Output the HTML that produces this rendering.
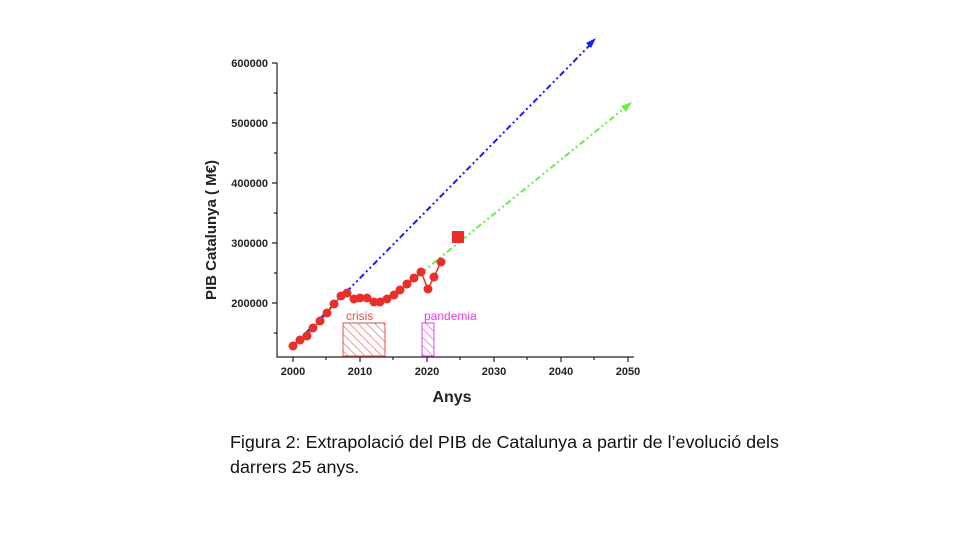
<!DOCTYPE html>
<html><head><meta charset="utf-8"><style>
body{margin:0;background:#fff;}
svg{display:block;font-family:"Liberation Sans",sans-serif;}
</style></head><body>
<svg width="960" height="540" viewBox="0 0 960 540">
<defs>
<pattern id="hr" width="6" height="6" patternUnits="userSpaceOnUse" patternTransform="rotate(-45)"><line x1="0" y1="0" x2="0" y2="6" stroke="#e8504a" stroke-width="1.2"/></pattern>
<pattern id="hm" width="6" height="6" patternUnits="userSpaceOnUse" patternTransform="rotate(-45)"><line x1="0" y1="0" x2="0" y2="6" stroke="#e040e8" stroke-width="1.2"/></pattern>
</defs>
<g stroke="#222" stroke-width="1.2" fill="none">
<path d="M277,63 V357 H634"/>
<path d="M272,63h5M272,123h5M272,183h5M272,243h5M272,303h5M274,93h3M274,153h3M274,213h3M274,273h3M274,333h3"/>
<path d="M293,357v5M360,357v5M427,357v5M494,357v5M561,357v5M628,357v5M326,357v3M393,357v3M460,357v3M527,357v3M594,357v3"/>
</g>
<g font-size="11" font-weight="bold" text-anchor="end" fill="#222">
<text x="268" y="67">600000</text><text x="268" y="127">500000</text><text x="268" y="187">400000</text><text x="268" y="247">300000</text><text x="268" y="307">200000</text>
</g>
<g font-size="11" font-weight="bold" text-anchor="middle" fill="#222">
<text x="293" y="375">2000</text><text x="360" y="375">2010</text><text x="427" y="375">2020</text><text x="494" y="375">2030</text><text x="561" y="375">2040</text><text x="628" y="375">2050</text>
</g>
<text x="452" y="402" font-size="16" font-weight="bold" text-anchor="middle" fill="#222">Anys</text>
<text transform="translate(216,230) rotate(-90)" font-size="15" font-weight="bold" text-anchor="middle" fill="#222">PIB Catalunya ( M€)</text>
<rect x="343" y="323" width="42" height="33" fill="url(#hr)" stroke="#e8504a"/>
<rect x="422" y="323" width="12" height="33" fill="url(#hm)" stroke="#e040e8"/>
<text x="346" y="320" font-size="12" fill="#e8504a">crisis</text>
<text x="424" y="320" font-size="12" fill="#e040e8">pandemia</text>
<line x1="293" y1="346" x2="592" y2="43" stroke="#1a1aff" stroke-width="2" stroke-dasharray="6,3,2,3,2,3"/>
<polygon points="596,38 586,43 591,48" fill="#1a1aff"/>
<line x1="388" y1="300" x2="627" y2="106" stroke="#66ee44" stroke-width="2" stroke-dasharray="6,3,2,3,2,3"/>
<polygon points="632,102 621,106 626,112" fill="#66ee44"/>
<polyline fill="none" stroke="#e8302a" stroke-width="1.5" points="293,346 300,340 307,336 313,328 320,321 327,313 334,304 341,296 347,293 354,299 360,298 367,298 374,302 380,302 387,299 394,295 400,290 407,284 414,278 421,272 428,289 434,277 441,262"/>
<g fill="#e8302a">
<circle cx="293" cy="346" r="4.5"/><circle cx="300" cy="340" r="4.5"/><circle cx="307" cy="336" r="4.5"/><circle cx="313" cy="328" r="4.5"/><circle cx="320" cy="321" r="4.5"/><circle cx="327" cy="313" r="4.5"/><circle cx="334" cy="304" r="4.5"/><circle cx="341" cy="296" r="4.5"/><circle cx="347" cy="293" r="4.5"/><circle cx="354" cy="299" r="4.5"/><circle cx="360" cy="298" r="4.5"/><circle cx="367" cy="298" r="4.5"/><circle cx="374" cy="302" r="4.5"/><circle cx="380" cy="302" r="4.5"/><circle cx="387" cy="299" r="4.5"/><circle cx="394" cy="295" r="4.5"/><circle cx="400" cy="290" r="4.5"/><circle cx="407" cy="284" r="4.5"/><circle cx="414" cy="278" r="4.5"/><circle cx="421" cy="272" r="4.5"/><circle cx="428" cy="289" r="4.5"/><circle cx="434" cy="277" r="4.5"/><circle cx="441" cy="262" r="4.5"/>
<rect x="452" y="231" width="12" height="12"/>
</g>
<g font-size="17.9" fill="#111">
<text x="230" y="448">Figura 2: Extrapolació del PIB de Catalunya a partir de l’evolució dels</text>
<text x="230" y="473">darrers 25 anys.</text>
</g>
</svg>
</body></html>
